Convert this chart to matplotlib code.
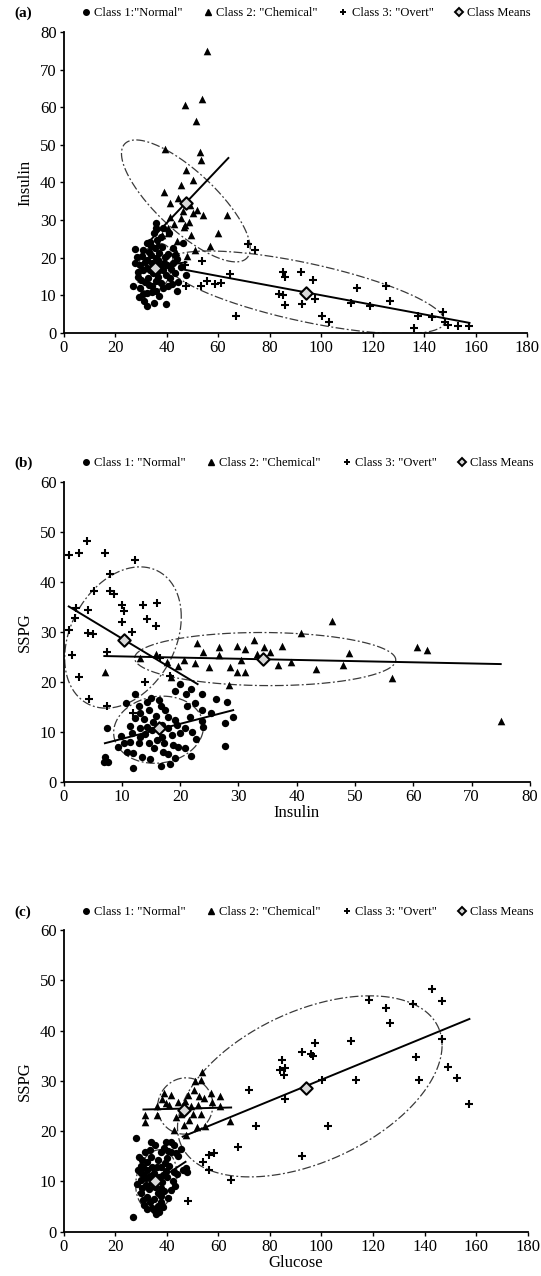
import numpy as np
import matplotlib
matplotlib.use("Agg")
import matplotlib.pyplot as plt
from matplotlib.lines import Line2D

# ---- panel (a): glucose vs insulin ----
a_normal_x = [27.7, 31.0, 33.0, 35.5, 36.1, 36.1, 38.7, 35.2, 33.5, 32.3, 42.6, 43.2, 46.5, 27.7, 29.7,
              32.3, 34.2, 36.8, 39.4, 40.0, 42.6, 29.0, 31.0, 32.9, 34.8, 36.8, 38.7, 41.3, 43.2, 47.7,
              27.1, 29.7, 32.3, 34.2, 36.1, 38.7, 40.6, 43.9, 29.4, 32.3, 35.1, 39.7, 30.5, 33.8, 35.0,
              37.5, 31.5, 33.5, 35.8, 37.8, 30.2, 34.5, 37.0, 39.8, 41.8, 44.5, 28.5, 31.8, 36.3, 38.2,
              40.5, 33.0, 35.9, 30.8, 42.0, 45.5, 34.0, 37.2, 28.8, 39.0, 32.6, 36.6, 44.0, 31.3, 38.0, 40.8]
a_normal_y = [22.3, 22.1, 21.5, 22.5, 29.2, 27.9, 28.0, 26.7, 24.3, 23.9, 22.5, 20.8, 23.9, 18.6, 18.1,
              19.5, 18.6, 19.5, 20.3, 18.1, 18.6, 15.0, 16.8, 14.6, 15.9, 15.0, 16.8, 14.6, 15.9, 15.5,
              12.4, 11.9, 10.6, 12.4, 11.1, 11.9, 12.4, 11.1, 9.7, 7.3, 8.1, 7.7, 20.5, 20.8, 17.5,
              17.8, 13.5, 16.8, 13.8, 13.2, 14.2, 10.8, 21.3, 15.5, 16.9, 13.5, 20.2, 18.8, 24.8, 22.9,
              21.0, 12.8, 19.9, 10.5, 13.0, 17.5, 23.0, 9.8, 16.3, 18.7, 17.3, 16.4, 19.8, 8.5, 25.5, 26.5]
a_chem_x = [55.7, 47.1, 53.8, 51.6, 52.9, 53.5, 39.4, 47.5, 45.8, 50.3, 39.0, 41.5, 46.2, 50.3, 52.0,
            54.2, 63.6, 47.1, 48.8, 46.6, 40.6, 60.0, 56.8, 40.7, 44.0, 45.5, 42.8, 49.5, 38.2, 43.5,
            51.0, 47.8, 41.2, 44.6, 49.0, 36.8]
a_chem_y = [75.0, 60.7, 62.2, 56.4, 48.0, 46.0, 48.9, 43.2, 39.2, 40.7, 37.5, 34.5, 32.3, 32.0, 32.7,
            31.4, 31.4, 28.7, 29.6, 28.3, 26.7, 26.5, 23.2, 27.9, 24.5, 30.5, 28.9, 26.0, 26.0, 21.5,
            22.0, 20.5, 30.8, 36.0, 34.0, 23.8]
a_overt_x = [47.1, 53.9, 64.5, 47.7, 53.2, 55.7, 58.7, 61.3, 67.1, 71.6, 74.2, 85.1, 86.0, 92.2, 97.0,
             83.8, 85.3, 97.7, 86.0, 92.5, 113.9, 125.2, 126.8, 111.5, 118.8, 100.3, 103.1, 137.8, 143.2,
             147.3, 148.2, 149.4, 153.3, 157.6, 136.1]
a_overt_y = [18.1, 19.2, 15.7, 12.6, 12.4, 13.7, 13.1, 13.3, 4.6, 23.6, 22.1, 16.2, 14.9, 16.1, 14.0,
             10.4, 10.2, 9.0, 7.5, 7.7, 11.9, 12.6, 8.4, 8.1, 7.2, 4.4, 3.0, 4.6, 4.2,
             5.5, 2.8, 2.2, 1.8, 1.8, 1.3]
a_means_x = [35.5, 47.7, 94.2]
a_means_y = [17.3, 34.5, 10.6]
# fitted lines: (x0, y0, x1, y1) per class
a_lines = [(34.2, 17.5, 47.7, 18.8), (33.5, 24.5, 64.0, 46.5), (47.1, 16.8, 157.6, 2.7)]
# ellipses: (cx, cy, half-width, half-height, phase in degrees)
a_ellipses = [(35.5, 17.3, 7.0, 6.5, 75), (47.5, 35.1, 25.0, 16.2, 141), (94.0, 10.8, 54.0, 11.0, 134)]

# ---- panel (b): insulin vs SSPG ----
b_normal_x = [20.0, 21.9, 19.1, 21.0, 23.8, 12.2, 26.1, 28.0, 15.0, 16.3, 14.3, 13.0, 17.4, 10.7, 13.1,
              14.6, 23.7, 21.1, 19.1, 21.7, 23.8, 29.1, 27.7, 15.4, 16.9, 18.0, 15.1, 14.3, 13.1, 11.4,
              7.4, 22.0, 20.0, 18.6, 16.9, 13.1, 14.6, 11.4, 10.3, 9.4, 12.9, 17.3, 19.7, 10.9, 12.0,
              13.4, 18.0, 20.9, 21.9, 27.7, 7.1, 7.7, 7.0, 12.0, 16.7, 18.3, 15.8, 17.9, 19.5, 20.8,
              12.3, 14.0, 16.0, 18.8, 22.8, 11.8, 15.5, 17.0, 14.9, 19.2, 24.0, 22.5, 25.3, 16.8, 9.8, 13.8]
b_normal_y = [19.6, 18.6, 18.2, 17.6, 17.6, 17.6, 16.6, 16.1, 16.8, 16.4, 16.1, 15.2, 14.4, 15.8, 13.8,
              14.4, 14.4, 15.2, 12.4, 13.1, 12.3, 13.0, 11.9, 12.1, 11.4, 10.8, 10.4, 11.1, 10.8, 11.2,
              10.9, 10.1, 9.8, 9.4, 9.0, 9.1, 7.8, 8.1, 7.8, 7.1, 7.8, 7.8, 7.1, 6.1, 5.8,
              5.1, 5.6, 6.8, 5.2, 7.3, 5.1, 4.1, 4.1, 2.9, 3.3, 3.7, 13.2, 13.0, 11.5, 10.9,
              12.8, 9.7, 8.4, 7.5, 8.7, 9.9, 6.8, 6.0, 4.6, 4.8, 11.0, 15.8, 13.9, 15.2, 9.2, 12.6]
b_chem_x = [7.1, 15.9, 17.7, 20.6, 19.7, 22.6, 22.9, 26.6, 26.6, 29.7, 31.1, 28.6, 29.7, 31.1, 28.4,
            13.1, 34.4, 37.5, 40.7, 46.0, 49.0, 43.3, 47.9, 39.1, 56.4, 60.7, 62.3, 75.0, 32.6, 33.2,
            35.5, 30.5, 25.0, 18.5, 36.8, 24.0]
b_chem_y = [22.1, 25.7, 24.0, 24.4, 23.3, 23.8, 27.9, 27.1, 25.4, 27.2, 26.7, 23.1, 22.1, 22.1, 19.4,
            24.9, 27.1, 27.3, 29.9, 32.1, 25.9, 22.6, 23.4, 24.1, 20.8, 27.1, 26.4, 12.3, 28.5, 25.6,
            26.0, 24.5, 23.0, 21.0, 23.5, 26.0]
b_overt_x = [1.0, 2.7, 4.1, 7.1, 12.3, 8.0, 5.3, 8.0, 8.7, 2.2, 4.2, 10.0, 10.3, 10.0, 11.7,
             13.7, 16.0, 14.3, 15.9, 1.0, 4.2, 1.4, 7.4, 2.7, 4.3, 7.5, 14.0, 18.3, 12.0, 5.0,
             2.0, 16.5]
b_overt_y = [45.3, 45.7, 48.2, 45.8, 44.4, 41.6, 38.2, 38.1, 37.6, 34.7, 34.4, 35.4, 34.1, 31.9, 30.1,
             35.3, 35.7, 32.6, 31.1, 30.4, 29.9, 25.4, 26.1, 21.1, 16.6, 15.2, 20.1, 21.2, 13.8, 29.6,
             32.8, 24.8]
b_means_x = [16.3, 34.3, 10.3]
b_means_y = [10.9, 24.6, 28.4]
b_lines = [(7.1, 7.8, 29.1, 14.4), (7.0, 25.2, 75.0, 23.6), (0.9, 35.1, 23.0, 19.6)]
b_ellipses = [(16.3, 10.5, 7.7, 6.7, 85), (34.6, 24.6, 22.4, 5.3, 92), (10.2, 28.9, 10.0, 14.1, 73)]

# ---- panel (c): glucose vs SSPG ----
c_normal_x = [28.0, 27.0, 33.8, 35.4, 39.9, 42.9, 41.6, 43.6, 37.7, 47.5, 47.9, 42.9, 29.3, 30.6, 32.5,
              37.7, 29.9, 32.5, 35.1, 37.1, 40.3, 41.6, 29.9, 31.9, 34.5, 37.7, 29.9, 32.5, 35.1, 37.7,
              35.1, 31.2, 35.8, 39.0, 31.0, 33.4, 36.2, 38.6, 30.5, 33.0, 36.5, 38.3, 34.0, 36.8, 39.2,
              41.0, 31.5, 33.6, 38.9, 44.3, 45.5, 40.5, 30.1, 32.0, 34.3, 36.0, 39.8, 42.5, 30.8, 33.6,
              36.5, 38.4, 34.2, 32.3, 37.2, 40.6, 43.2, 28.8, 28.6, 31.4, 35.6, 37.9, 40.0, 41.8, 46.2, 44.0]
c_normal_y = [18.7, 3.0, 17.9, 17.2, 17.9, 17.2, 15.9, 15.6, 15.9, 12.6, 11.8, 11.9, 14.9, 14.3, 13.9,
              12.9, 11.6, 12.3, 11.6, 10.9, 10.9, 8.3, 10.3, 9.3, 9.6, 8.6, 7.6, 7.0, 6.6, 6.0,
              4.3, 5.3, 3.6, 8.0, 12.9, 11.0, 12.8, 11.3, 8.6, 8.4, 7.6, 9.8, 14.8, 14.2, 13.6,
              13.0, 15.8, 16.2, 16.6, 15.0, 16.4, 16.1, 13.1, 10.7, 12.9, 10.2, 12.1, 10.0, 6.4, 5.9,
              5.2, 4.9, 4.8, 4.5, 3.9, 6.8, 9.1, 12.3, 9.4, 11.3, 8.8, 7.2, 14.7, 17.8, 12.2, 11.4]
c_chem_x = [53.3, 50.5, 52.4, 54.4, 39.0, 41.6, 39.7, 41.0, 48.1, 46.2, 49.4, 52.0, 60.7, 57.5, 57.2,
            60.5, 36.4, 31.6, 31.6, 36.4, 48.8, 53.3, 51.8, 42.9, 47.5, 64.4, 45.5, 47.0, 44.3, 50.2,
            50.8, 53.7, 43.8, 46.8, 55.0, 38.0]
c_chem_y = [30.2, 28.1, 26.9, 26.5, 27.5, 27.2, 25.5, 25.2, 27.2, 24.9, 24.9, 25.2, 25.0, 25.7, 27.5,
            27.0, 24.9, 23.2, 21.9, 23.2, 22.2, 23.5, 20.9, 20.2, 19.2, 22.0, 23.5, 26.0, 25.8, 23.4,
            30.0, 31.8, 22.8, 21.2, 21.0, 26.3]
c_overt_x = [142.8, 146.8, 118.5, 135.5, 124.9, 126.7, 111.6, 97.4, 92.3, 96.1, 96.8, 84.9, 83.9, 85.8,
             85.5, 146.8, 136.5, 149.0, 152.5, 137.7, 113.5, 100.4, 85.8, 157.2, 102.6, 92.3, 71.9,
             74.8, 67.6, 58.5, 56.6, 54.0, 56.6, 64.8, 48.1]
c_overt_y = [48.2, 45.8, 46.1, 45.2, 44.4, 41.4, 38.0, 37.6, 35.8, 35.3, 35.0, 34.2, 32.2, 32.5,
             31.2, 38.3, 34.8, 32.8, 30.5, 30.2, 30.2, 30.1, 26.3, 25.4, 21.1, 15.1, 28.2,
             21.1, 16.9, 15.6, 15.3, 13.9, 12.3, 10.3, 6.2]
c_means_x = [35.6, 46.6, 94.2]
c_means_y = [10.0, 24.3, 28.5]
c_lines = [(29.0, 7.7, 47.3, 13.9), (31.0, 24.3, 65.0, 24.7), (46.2, 18.9, 157.4, 42.3)]
c_ellipses = [(36.0, 10.3, 8.0, 6.0, 80), (47.2, 25.0, 10.7, 5.6, 88), (95.5, 28.9, 51.3, 18.0, 63)]

SERIF = ["Liberation Serif", "DejaVu Serif"]
plt.rcParams["font.family"] = SERIF

fig = plt.figure(figsize=(5.41, 12.76), dpi=100)


def ellipse_curve(cx, cy, hx, hy, phase):
    t = np.linspace(0, 2 * np.pi, 300)
    return cx + hx * np.cos(t), cy + hy * np.cos(t - np.radians(phase))


def draw_panel(rect, normal, chem, overt, means, lines, ellipses, xlim, xstep, ylim,
               xlabel, ylabel, tag, legend_y, colon_space):
    ax = fig.add_axes(rect)
    for e in ellipses:
        ex, ey = ellipse_curve(*e)
        ax.plot(ex, ey, color="#3a3a3a", lw=0.9, ls=(0, (7, 2, 1.5, 2)), zorder=2)
    for x0, y0, x1, y1 in lines:
        ax.plot([x0, x1], [y0, y1], color="black", lw=1.4, zorder=3)
    ax.scatter(normal[0], normal[1], s=28, marker="o", color="black", lw=0, zorder=4)
    ax.scatter(chem[0], chem[1], s=30, marker="^", color="black", lw=0, zorder=4)
    ax.scatter(overt[0], overt[1], s=34, marker="+", color="black", lw=1.5, zorder=4)
    ax.scatter(means[0], means[1], s=40, marker="D", facecolor="#d8d8d8",
               edgecolor="black", lw=1.5, zorder=5)

    ax.set_xlim(*xlim)
    ax.set_ylim(*ylim)
    ax.set_xticks(np.arange(xlim[0], xlim[1] + 1, xstep))
    ax.set_yticks(np.arange(ylim[0], ylim[1] + 1, 10))
    for side in ("top", "right"):
        ax.spines[side].set_visible(False)
    for side in ("left", "bottom"):
        ax.spines[side].set_linewidth(1.3)
    ax.tick_params(direction="out", length=3, width=1, labelsize=12, pad=2)
    if xlabel:
        ax.set_xlabel(xlabel, fontsize=12, labelpad=0)
    ax.set_ylabel(ylabel, fontsize=12, labelpad=5)

    sep = ": " if colon_space else ":"
    handles = [
        Line2D([], [], ls="none", marker="o", color="black", ms=4),
        Line2D([], [], ls="none", marker="^", color="black", ms=4),
        Line2D([], [], ls="none", marker="+", color="black", ms=5, mew=1.4),
        Line2D([], [], ls="none", marker="D", mfc="#d8d8d8", mec="black", ms=4, mew=1.4),
    ]
    labels = ['Class 1' + sep + '"Normal"', 'Class 2: "Chemical"',
              'Class 3: "Overt"', 'Class Means']
    fig.legend(handles, labels, loc="center left", bbox_to_anchor=(0.152, legend_y),
               ncol=4, frameon=False, fontsize=9, handlelength=0.6, handletextpad=0.35,
               columnspacing=1.75, borderaxespad=0, borderpad=0)
    fig.text(0.026, legend_y, tag, fontsize=11, fontweight="bold", va="center", ha="left")
    return ax


draw_panel([0.1174, 0.739, 0.857, 0.236], (a_normal_x, a_normal_y), (a_chem_x, a_chem_y),
           (a_overt_x, a_overt_y), (a_means_x, a_means_y), a_lines, a_ellipses,
           (0, 180), 20, (0, 80), None, "Insulin", "(a)", 1 - 13 / 1276, False)
draw_panel([0.1174, 0.3869, 0.862, 0.2356], (b_normal_x, b_normal_y), (b_chem_x, b_chem_y),
           (b_overt_x, b_overt_y), (b_means_x, b_means_y), b_lines, b_ellipses,
           (0, 80), 10, (0, 60), "Insulin", "SSPG", "(b)", 1 - 463 / 1276, True)
draw_panel([0.1174, 0.0347, 0.858, 0.2365], (c_normal_x, c_normal_y), (c_chem_x, c_chem_y),
           (c_overt_x, c_overt_y), (c_means_x, c_means_y), c_lines, c_ellipses,
           (0, 180), 20, (0, 60), "Glucose", "SSPG", "(c)", 1 - 912 / 1276, True)

fig.savefig("out.png", dpi=100)
